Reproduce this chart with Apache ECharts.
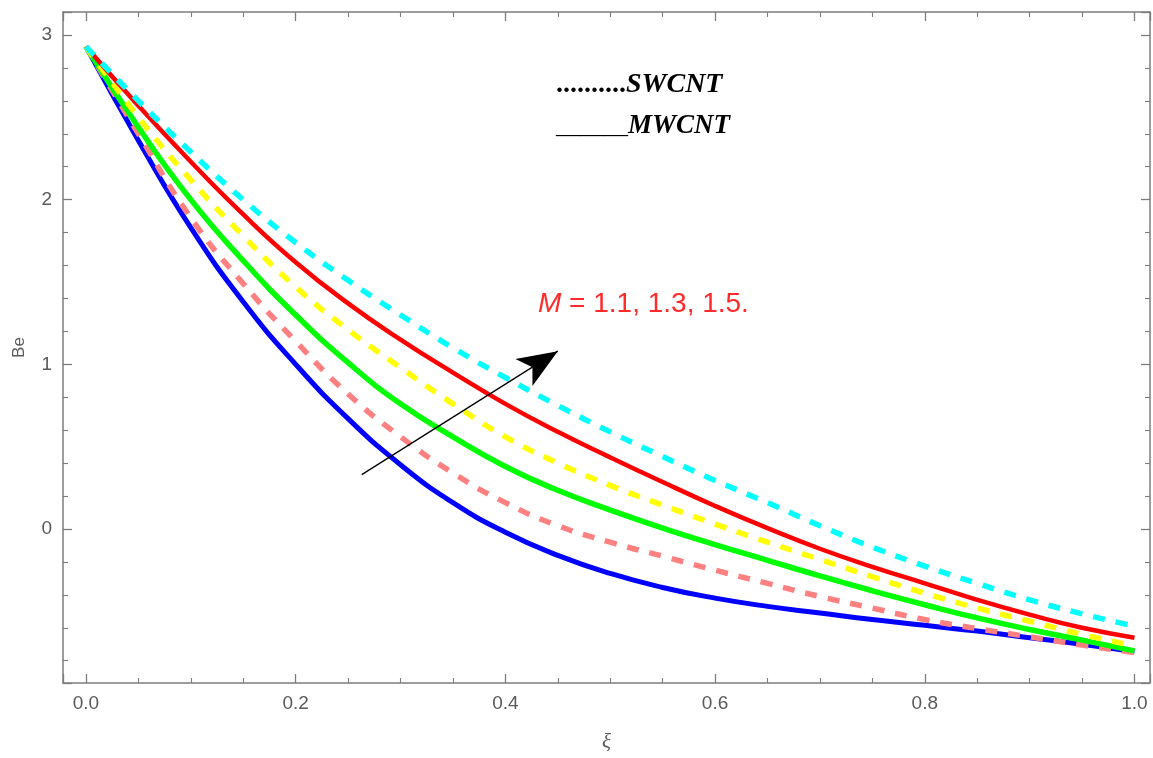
<!DOCTYPE html>
<html>
<head>
<meta charset="utf-8">
<script src="https://cdn.jsdelivr.net/npm/echarts@6/dist/echarts.min.js"></script>
<style>
html,body{margin:0;padding:0;background:#fff;}
#chart{width:1153px;height:758px;}
</style>
</head>
<body>
<div id="chart"></div>
<script>
// ---- data ----
const xi = [0, 0.05, 0.1, 0.15, 0.2, 0.25, 0.3, 0.35, 0.4, 0.45, 0.5, 0.55, 0.6, 0.65, 0.7, 0.75, 0.8, 0.85, 0.9, 0.95, 1.0];
// MWCNT (solid) and SWCNT (dashed), M = 1.1, 1.3, 1.5
const mwcntM11 = [2.93, 2.36, 1.83, 1.38, 1.00, 0.67, 0.39, 0.16, -0.02, -0.16, -0.27, -0.355, -0.42, -0.47, -0.51, -0.55, -0.585, -0.62, -0.66, -0.70, -0.745];
const swcntM11 = [2.93, 2.40, 1.89, 1.49, 1.14, 0.82, 0.56, 0.34, 0.16, 0.02, -0.08, -0.165, -0.25, -0.33, -0.41, -0.48, -0.55, -0.605, -0.655, -0.705, -0.75];
const mwcntM13 = [2.93, 2.44, 2.00, 1.63, 1.30, 1.01, 0.76, 0.56, 0.38, 0.235, 0.115, 0.005, -0.095, -0.19, -0.285, -0.375, -0.46, -0.54, -0.61, -0.675, -0.74];
const swcntM13 = [2.93, 2.50, 2.12, 1.78, 1.47, 1.21, 0.98, 0.76, 0.56, 0.40, 0.265, 0.145, 0.03, -0.08, -0.185, -0.29, -0.39, -0.48, -0.56, -0.64, -0.71];
const mwcntM15 = [2.93, 2.57, 2.23, 1.91, 1.62, 1.37, 1.15, 0.95, 0.76, 0.59, 0.435, 0.285, 0.14, 0.005, -0.12, -0.23, -0.33, -0.43, -0.52, -0.60, -0.66];
const swcntM15 = [2.93, 2.60, 2.29, 2.00, 1.74, 1.51, 1.30, 1.10, 0.92, 0.75, 0.59, 0.44, 0.295, 0.16, 0.02, -0.11, -0.225, -0.33, -0.43, -0.515, -0.59];
const arrowFrom = [0.263, 0.33];
const arrowTo = [0.450, 1.08];

const X_MIN = -0.0219, X_MAX = 1.0148, Y_MIN = -0.9352, Y_MAX = 3.1397;
const frameColor = '#7d7d7d';
const labelColor = '#5a5a5a';

function pairs(ys){ return xi.map((x,i)=>[x, ys[i]]); }

const chart = echarts.init(document.getElementById('chart'), null, {renderer:'canvas'});

function axisCommon(showLabel){
  return {
    axisLine:{show:true, onZero:false, lineStyle:{color:frameColor, width:1.5}},
    axisTick:{show:true, inside:true, length:9, lineStyle:{color:frameColor, width:1.3}},
    minorTick:{show:true, length:5, lineStyle:{color:frameColor, width:1.1}},
    splitLine:{show:false},
    minorSplitLine:{show:false},
    axisLabel:{show:showLabel, color:labelColor, fontSize:19, fontFamily:'Liberation Sans', showMinLabel:false, showMaxLabel:false}
  };
}

const xBottom = Object.assign(axisCommon(true), {
  type:'value', position:'bottom', min:X_MIN, max:X_MAX,
  name:'ξ', nameLocation:'middle', nameGap:49,
  nameTextStyle:{color:labelColor, fontSize:21, fontStyle:'italic', fontFamily:'Liberation Serif'}
});
xBottom.axisLabel.formatter = v => v.toFixed(1);
xBottom.axisLabel.margin = 11;
xBottom.minorTick.splitNumber = 4;
const xTop = Object.assign(axisCommon(false), {type:'value', position:'top', min:X_MIN, max:X_MAX});
xTop.minorTick.splitNumber = 4;

const yLeft = Object.assign(axisCommon(true), {
  type:'value', position:'left', min:Y_MIN, max:Y_MAX,
  name:'Be', nameLocation:'middle', nameGap:35, nameRotate:90,
  nameTextStyle:{color:labelColor, fontSize:17, fontFamily:'Liberation Sans'}
});
yLeft.axisLabel.formatter = v => String(Math.round(v));
yLeft.axisLabel.margin = 11;
yLeft.minorTick.splitNumber = 5;
const yRight = Object.assign(axisCommon(false), {type:'value', position:'right', min:Y_MIN, max:Y_MAX});
yRight.minorTick.splitNumber = 5;

function solid(name, color, ys, w){
  return {name, type:'line', data:pairs(ys), smooth:0.5, showSymbol:false, symbol:'none',
    lineStyle:{color, width:w, type:'solid'}, z:3, animation:false};
}
function dashed(name, color, ys){
  return {name, type:'line', data:pairs(ys), smooth:0.5, showSymbol:false, symbol:'none',
    lineStyle:{color, width:5.5, type:[12,11], cap:'butt'}, z:3, animation:false};
}

const series = [
  solid('MWCNT M=1.1', '#0000ff', mwcntM11, 5),
  dashed('SWCNT M=1.1', '#ff8080', swcntM11),
  solid('MWCNT M=1.3', '#00ff00', mwcntM13, 5.5),
  dashed('SWCNT M=1.3', '#ffff00', swcntM13),
  solid('MWCNT M=1.5', '#ff0000', mwcntM15, 4.5),
  dashed('SWCNT M=1.5', '#00ffff', swcntM15)
];
series.push({
  type:'line', data:[], silent:true, animation:false,
  markLine:{
    silent:true, animation:false, symbol:['none','arrow'], symbolSize:[24,40],
    label:{show:false},
    lineStyle:{color:'#000', width:1.3, type:'solid'},
    data:[[{coord:arrowFrom},{coord:arrowTo}]]
  }
});

chart.setOption({
  backgroundColor:'#ffffff',
  animation:false,
  grid:{left:63, right:3, top:12, bottom:75, containLabel:false},
  xAxis:[xBottom, xTop],
  yAxis:[yLeft, yRight],
  series,
  graphic:[
    {type:'text', left:556, top:71, style:{
      text:'{d|..........}{t|SWCNT}',
      rich:{
        d:{fontFamily:'Liberation Serif', fontWeight:'bold', fontSize:28, fill:'#000'},
        t:{fontFamily:'Liberation Serif', fontWeight:'bold', fontStyle:'italic', fontSize:28, fill:'#000'}
      }}},
    {type:'text', left:556, top:113, style:{
      text:'{d|______}{t|MWCNT}',
      rich:{
        d:{fontFamily:'Liberation Serif', fontSize:24, fill:'#000'},
        t:{fontFamily:'Liberation Serif', fontWeight:'bold', fontStyle:'italic', fontSize:27, fill:'#000'}
      }}},
    {type:'text', left:538, top:290, style:{
      text:'{m|M}{r| = 1.1, 1.3, 1.5.}',
      rich:{
        m:{fontFamily:'Liberation Sans', fontStyle:'italic', fontSize:28, fill:'#ff2a2a'},
        r:{fontFamily:'Liberation Sans', fontSize:28, fill:'#ff2a2a'}
      }}}
  ]
});
</script>
</body>
</html>
